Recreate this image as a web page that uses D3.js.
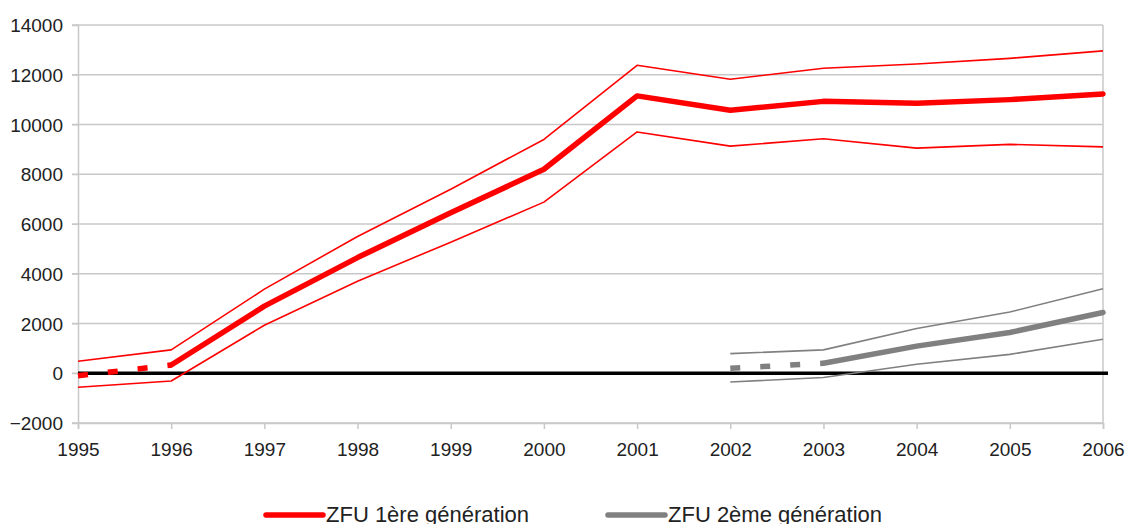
<!DOCTYPE html>
<html>
<head>
<meta charset="utf-8">
<script src="https://cdn.jsdelivr.net/npm/d3@7"></script>
<style>
  body { margin: 0; background: #fff; }
  text { font-family: "Liberation Sans", Arial, sans-serif; }
</style>
</head>
<body>
<svg id="chart" width="1125" height="524"></svg>
<script>
// data
var years = [1995, 1996, 1997, 1998, 1999, 2000, 2001, 2002, 2003, 2004, 2005, 2006];
var yTicks = [-2000, 0, 2000, 4000, 6000, 8000, 10000, 12000, 14000];

var zfu1 = [-100, 330, 2700, 4650, 6450, 8200, 11150, 10570, 10930, 10850, 11000, 11230];
var zfu1High = [480, 940, 3380, 5500, 7400, 9400, 12380, 11820, 12260, 12430, 12660, 12960];
var zfu1Low = [-560, -310, 1930, 3700, 5270, 6880, 9700, 9130, 9430, 9050, 9200, 9100];

var zfu2 = [null, null, null, null, null, null, null, 200, 400, 1090, 1640, 2440];
var zfu2High = [null, null, null, null, null, null, null, 790, 940, 1800, 2460, 3400];
var zfu2Low = [null, null, null, null, null, null, null, -350, -170, 360, 760, 1370];

var red = "#ff0000", grey = "#808080";

var svg = d3.select("#chart");
var x = d3.scaleLinear().domain([1995, 2006]).range([78, 1103]);
var y = d3.scaleLinear().domain([-2000, 14000]).range([423, 25]);

// gridlines
svg.append("g").selectAll("line").data(yTicks).join("line")
  .attr("x1", 72).attr("x2", 1103)
  .attr("y1", d => y(d)).attr("y2", d => y(d))
  .style("stroke", "#c8c8c8").style("stroke-width", 1.5);

// y axis
var yAxis = svg.append("g").attr("transform", "translate(78,0)")
  .call(d3.axisLeft(y).tickValues(yTicks).tickSize(6).tickPadding(9).tickFormat(d3.format("d")));
yAxis.select(".domain").style("stroke", "#c8c8c8").style("stroke-width", 1.5);
yAxis.selectAll(".tick line").style("stroke", "#c8c8c8");
yAxis.selectAll("text").style("font-size", "19px").style("fill", "#222").attr("dy", "0.35em");

// x axis
var xAxis = svg.append("g").attr("transform", "translate(0," + y(-2000) + ")")
  .call(d3.axisBottom(x).tickValues(years).tickSize(6).tickPadding(14).tickFormat(d3.format("d")));
xAxis.select(".domain").style("stroke", "#c8c8c8").style("stroke-width", 1.5);
xAxis.selectAll(".tick line").style("stroke", "#c8c8c8").style("stroke-width", 1.5);
xAxis.selectAll("text").style("font-size", "19px").style("fill", "#222");

// right border
svg.append("line").attr("x1", 1103).attr("x2", 1103).attr("y1", y(14000)).attr("y2", y(-2000))
  .style("stroke", "#c8c8c8").style("stroke-width", 1.5);

// zero line
svg.append("line").attr("x1", 78).attr("x2", 1108).attr("y1", y(0)).attr("y2", y(0))
  .style("stroke", "#000").style("stroke-width", 3.5);

var line = d3.line()
  .defined(d => d.v != null)
  .x(d => x(d.year)).y(d => y(d.v));

function pts(vals, from, to) {
  return years.map((yr, i) => ({ year: yr, v: vals[i] }))
    .filter(d => d.year >= from && d.year <= to && d.v != null);
}

function draw(data, color, width, dash) {
  return svg.append("path").datum(data).attr("d", line)
    .style("fill", "none").style("stroke", color)
    .style("stroke-width", width)
    .style("stroke-linejoin", "round")
    .style("stroke-dasharray", dash || null);
}

// bands
draw(pts(zfu1High, 1995, 2006), red, 1.6);
draw(pts(zfu1Low, 1995, 2006), red, 1.6);
draw(pts(zfu2High, 2002, 2006), grey, 1.6);
draw(pts(zfu2Low, 2002, 2006), grey, 1.6);

// main series: dashed first segment, then solid
draw(pts(zfu1, 1995, 1996), red, 5.5, "10,20");
draw(pts(zfu1, 1996, 2006), red, 5.5).style("stroke-linecap", "round");
draw(pts(zfu2, 2002, 2003), grey, 5.5, "10,20");
draw(pts(zfu2, 2003, 2006), grey, 5.5).style("stroke-linecap", "round");

// legend (cut at the bottom edge, as in the original)
var legend = [
  { name: "ZFU 1ère génération", color: red, x: 266 },
  { name: "ZFU 2ème génération", color: grey, x: 608 }
];
var lg = svg.append("g").selectAll("g").data(legend).join("g")
  .attr("transform", d => "translate(" + d.x + ",515)");
lg.append("line").attr("x1", 0).attr("x2", 57).attr("y1", 0).attr("y2", 0)
  .style("stroke", d => d.color).style("stroke-width", 5.5).style("stroke-linecap", "round");
lg.append("text").attr("x", 60).attr("y", 7)
  .style("font-size", "22px").style("fill", "#222").text(d => d.name);
</script>
</body>
</html>
